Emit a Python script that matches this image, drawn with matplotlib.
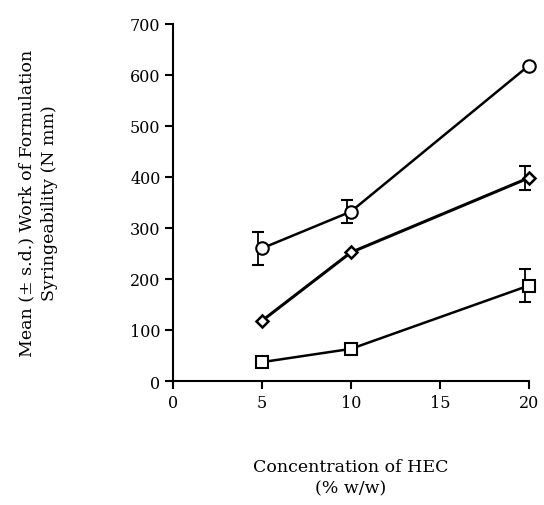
import matplotlib.pyplot as plt
import matplotlib.transforms as mtransforms

plt.rcParams['font.family'] = ['DejaVu Serif']

conc = [5, 10, 20]
circle_mean = [260, 332, 618]
circle_sd = [32, 22, 0]
diamond_mean = [118, 252, 398]
diamond_sd = [0, 0, 24]
square_mean = [37, 63, 187]
square_sd = [0, 0, 33]

fig = plt.figure(figsize=(5.44, 5.06), dpi=100)
ax = fig.add_axes([0.318, 0.245, 0.654, 0.706])

# error bars sit a little left of the markers, as in the original
shift = mtransforms.ScaledTranslation(-3 / 72, 0, fig.dpi_scale_trans)
for mean, sd in [(circle_mean, circle_sd), (diamond_mean, diamond_sd), (square_mean, square_sd)]:
    xs = [c for c, s in zip(conc, sd) if s > 0]
    ys = [m for m, s in zip(mean, sd) if s > 0]
    es = [s for s in sd if s > 0]
    eb = ax.errorbar(xs, ys, yerr=es, fmt='none', ecolor='black', elinewidth=1.3,
                     capsize=4, capthick=1.5, transform=ax.transData + shift, zorder=1)
    for art in eb.lines[1] + eb.lines[2]:
        art.set_clip_on(False)

ax.plot(conc, circle_mean, color='black', lw=1.8, marker='o', ms=9,
        mfc='white', mec='black', mew=1.5, zorder=3, clip_on=False)
ax.plot(conc, diamond_mean, color='black', lw=2.2, marker='D', ms=6.5,
        mfc='white', mec='black', mew=1.8, zorder=3, clip_on=False)
ax.plot(conc, square_mean, color='black', lw=1.8, marker='s', ms=9,
        mfc='white', mec='black', mew=1.5, zorder=3, clip_on=False)

ax.set_xlim(0, 20)
ax.set_ylim(0, 700)
ax.set_xticks([0, 5, 10, 15, 20])
ax.set_yticks(range(0, 701, 100))
ax.spines['top'].set_visible(False)
ax.spines['right'].set_visible(False)
ax.spines['left'].set_linewidth(1.5)
ax.spines['bottom'].set_linewidth(1.5)
ax.tick_params(direction='out', length=6, width=1.5, labelsize=11.5, pad=3)

ax.set_xlabel('Concentration of HEC\n(% w/w)', fontsize=12.5, labelpad=34, linespacing=1.35)
ax.set_ylabel('Mean (± s.d.) Work of Formulation\nSyringeability (N mm)', fontsize=12.5,
              labelpad=52, linespacing=1.45)

fig.savefig('out.png', dpi=100)
